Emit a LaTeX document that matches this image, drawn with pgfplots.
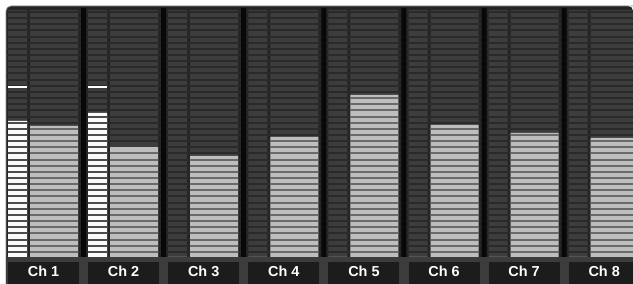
\documentclass[border=0pt]{standalone}
\usepackage{fontspec}
\setmainfont{Liberation Sans}
\usepackage{pgfplots}
\pgfplotsset{compat=1.18}
\usepackage{pgfplotstable}
\definecolor{stripc}{HTML}{242424}
\definecolor{sepc}{HTML}{080808}
\definecolor{offc}{HTML}{3D3D3D}
\definecolor{offgap}{HTML}{2A2A2A}
\definecolor{onR}{HTML}{BEBEBE}
\definecolor{onRgap}{HTML}{6A6A6A}
\definecolor{onL}{HTML}{FAFAFA}
\definecolor{onLgap}{HTML}{4C4C4C}
\definecolor{bandc}{HTML}{3C3C3C}
\definecolor{boxc}{HTML}{1C1C1C}
% meter centres (px), left-meter level and right-meter level (px above meter floor)
\pgfplotstableread{
xl    xr    left right
17.5  54.0  136  131
97.6  134.1 144  110
177.7 214.2 0    101
257.8 294.3 0    120
337.9 374.4 0    162
418.0 454.5 0    132
498.1 534.6 0    124
578.2 614.7 0    119
}\meters
\pgfplotstableread{
xs    top
83.5  249
163.6 249
243.7 249
323.8 249
403.9 249
484.0 249
564.1 249
}\seps
% centres of the dark gaps between meter segments
\pgfplotstableread{
g
5.15
11.3
17.45
23.6
29.75
35.9
42.05
48.2
54.35
60.5
66.65
72.8
78.95
85.1
91.25
97.4
103.55
109.7
115.85
122
128.15
134.3
140.45
146.6
152.75
158.9
165.05
171.2
177.35
183.5
189.65
195.8
201.95
208.1
214.25
220.4
226.55
232.7
238.85
245
}\gaps
\pgfplotsset{
  gapbars/.style 2 args={only marks, mark size=0pt, mark options={draw=none, fill=none},
    error bars/.cd, x dir=both, x fixed=#1, error mark=none,
    error bar style={line width=2bp, draw=#2}}}
\begin{document}
\begin{tikzpicture}
\begin{axis}[scale only axis, width=633bp, height=284bp,
  xmin=0, xmax=633, ymin=-27, ymax=257,
  axis lines=none, xtick=\empty, ytick=\empty, clip=true,
  clip marker paths=true]
\fill[white] (axis cs:0,-27) rectangle (axis cs:633,257);
\fill[stripc] (axis cs:6,-27) [rounded corners=5bp] -- (axis cs:6,251) -- (axis cs:633,251) [sharp corners] -- (axis cs:633,-27) -- cycle;
% unlit meters
\addplot[ybar, bar width=19, bar shift=0pt, fill=offc, draw=none] table[x=xl, y expr=247] {\meters};
\addplot[ybar, bar width=48, bar shift=0pt, fill=offc, draw=none] table[x=xr, y expr=247] {\meters};
% unlit segment gaps across the panel
\addplot[gapbars={313.5}{offgap}] table[x expr=319.5, y=g] {\gaps};
% separators
\addplot[ybar, bar width=5, bar shift=0pt, fill=sepc, draw=none] table[x=xs, y=top] {\seps};
% lit meters
\addplot[ybar, bar width=19, bar shift=0pt, fill=onL, draw=none] table[x=xl, y=left] {\meters};
\addplot[ybar, bar width=48, bar shift=0pt, fill=onR, draw=none] table[x=xr, y=right] {\meters};
% lit segment gaps
\addplot[restrict y to domain=-10:135, gapbars={9.5}{onLgap}] table[x expr=17.5, y=g] {\gaps};
\addplot[restrict y to domain=-10:143, gapbars={9.5}{onLgap}] table[x expr=97.6, y=g] {\gaps};
\addplot[restrict y to domain=-10:130, gapbars={24}{onRgap}] table[x expr=54.0, y=g] {\gaps};
\addplot[restrict y to domain=-10:109, gapbars={24}{onRgap}] table[x expr=134.1, y=g] {\gaps};
\addplot[restrict y to domain=-10:100, gapbars={24}{onRgap}] table[x expr=214.2, y=g] {\gaps};
\addplot[restrict y to domain=-10:119, gapbars={24}{onRgap}] table[x expr=294.3, y=g] {\gaps};
\addplot[restrict y to domain=-10:161, gapbars={24}{onRgap}] table[x expr=374.4, y=g] {\gaps};
\addplot[restrict y to domain=-10:131, gapbars={24}{onRgap}] table[x expr=454.5, y=g] {\gaps};
\addplot[restrict y to domain=-10:123, gapbars={24}{onRgap}] table[x expr=534.6, y=g] {\gaps};
\addplot[restrict y to domain=-10:118, gapbars={24}{onRgap}] table[x expr=614.7, y=g] {\gaps};
% peak hold
\addplot[white, line width=1.5bp] coordinates {(8,170) (27,170)};
\addplot[white, line width=1.5bp] coordinates {(88.1,170) (107.1,170)};
% top and left rim
\draw[black!45, line width=0.8bp] (axis cs:6,-27) [rounded corners=5bp] -- (axis cs:6,251) -- (axis cs:633,251);
% label band
\fill[bandc] (axis cs:6,-27) rectangle (axis cs:633,0);
\fill[boxc] (axis cs:8,-27) rectangle (axis cs:79,-5);
\fill[boxc] (axis cs:88.1,-27) rectangle (axis cs:159.1,-5);
\fill[boxc] (axis cs:168.2,-27) rectangle (axis cs:239.2,-5);
\fill[boxc] (axis cs:248.3,-27) rectangle (axis cs:319.3,-5);
\fill[boxc] (axis cs:328.4,-27) rectangle (axis cs:399.4,-5);
\fill[boxc] (axis cs:408.5,-27) rectangle (axis cs:479.5,-5);
\fill[boxc] (axis cs:488.6,-27) rectangle (axis cs:559.6,-5);
\fill[boxc] (axis cs:568.7,-27) rectangle (axis cs:633,-5);
\begin{scope}[every node/.style={text=white, anchor=base, font=\bfseries\fontsize{14.5}{16}\selectfont}]
\node at (axis cs:43.5,-19.7) {Ch 1};
\node at (axis cs:123.6,-19.7) {Ch 2};
\node at (axis cs:203.7,-19.7) {Ch 3};
\node at (axis cs:283.8,-19.7) {Ch 4};
\node at (axis cs:363.9,-19.7) {Ch 5};
\node at (axis cs:444.0,-19.7) {Ch 6};
\node at (axis cs:524.1,-19.7) {Ch 7};
\node at (axis cs:604.2,-19.7) {Ch 8};
\end{scope}
\end{axis}
\end{tikzpicture}
\end{document}
